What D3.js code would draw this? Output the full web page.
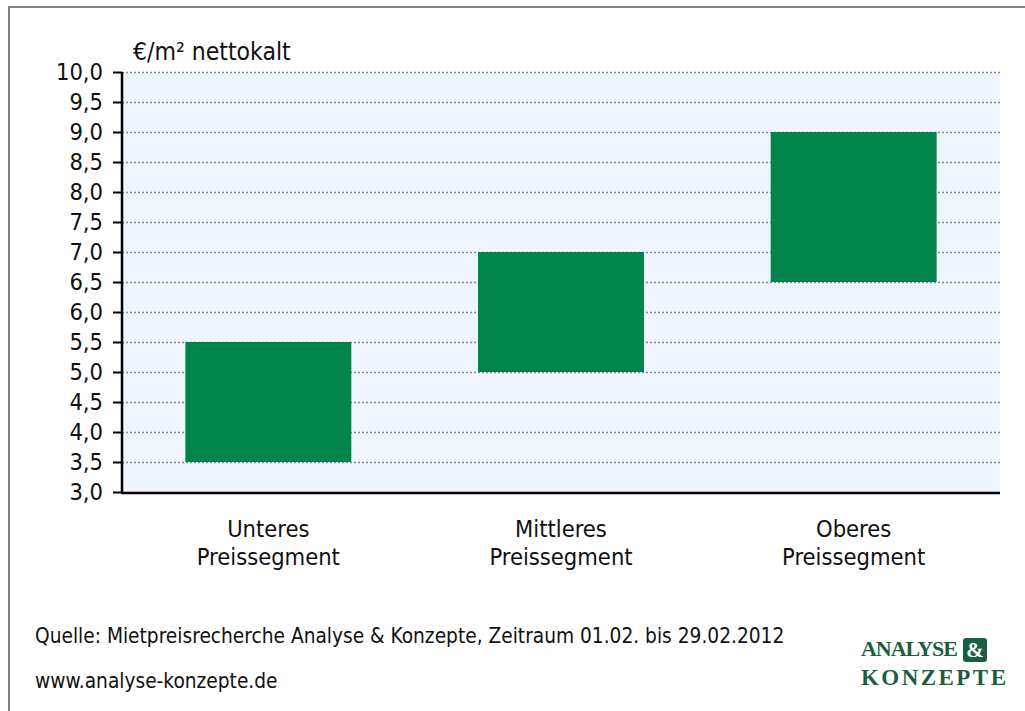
<!DOCTYPE html>
<html>
<head>
<meta charset="utf-8">
<script src="https://cdn.jsdelivr.net/npm/d3@7"></script>
<style>
  html, body { margin: 0; padding: 0; background: #fff; }
  svg { display: block; }
  text { font-family: "DejaVu Sans Condensed", "DejaVu Sans", sans-serif; fill: #111; }
</style>
</head>
<body>
<div id="chart"></div>
<script>
// Preisspannen je Segment (€/m² nettokalt)
const categories = [["Unteres", "Preissegment"], ["Mittleres", "Preissegment"], ["Oberes", "Preissegment"]];
const lowValues = [3.5, 5.0, 6.5];
const highValues = [5.5, 7.0, 9.0];
const yTicks = [3.0, 3.5, 4.0, 4.5, 5.0, 5.5, 6.0, 6.5, 7.0, 7.5, 8.0, 8.5, 9.0, 9.5, 10.0];
const unitLabel = "€/m² nettokalt";
const sourceText = "Quelle: Mietpreisrecherche Analyse & Konzepte, Zeitraum 01.02. bis 29.02.2012";
const urlText = "www.analyse-konzepte.de";

const W = 1025, H = 711;
const plot = { left: 122, right: 1000, top: 72, bottom: 492 };

const svg = d3.select("#chart").append("svg")
    .attr("width", W)
    .attr("height", H);

// outer frame (only top and left edge visible)
svg.append("rect")
    .attr("x", 9).attr("y", 7)
    .attr("width", W + 20).attr("height", H + 20)
    .attr("fill", "none")
    .attr("stroke", "#808080")
    .attr("stroke-width", 2);

const x = d3.scaleBand()
    .domain(d3.range(categories.length))
    .range([plot.left, plot.right])
    .paddingInner(0.433)
    .paddingOuter(0.2165);

const y = d3.scaleLinear()
    .domain([3, 10])
    .range([plot.bottom, plot.top]);

// plot background
svg.append("rect")
    .attr("x", plot.left).attr("y", plot.top)
    .attr("width", plot.right - plot.left)
    .attr("height", plot.bottom - plot.top)
    .attr("fill", "#eef5fd");

// dotted gridlines
svg.append("g")
    .selectAll("line")
    .data(yTicks.filter(d => d > 3))
    .join("line")
    .attr("x1", plot.left).attr("x2", plot.right)
    .attr("y1", d => y(d) + 0.5).attr("y2", d => y(d) + 0.5)
    .attr("stroke", "#8a8a8a")
    .attr("stroke-width", 1.5)
    .attr("stroke-dasharray", "2,2");

// bars (floating range)
svg.append("g")
    .selectAll("rect")
    .data(categories.map((c, i) => ({ i, lo: lowValues[i], hi: highValues[i] })))
    .join("rect")
    .attr("x", d => x(d.i))
    .attr("width", x.bandwidth())
    .attr("y", d => y(d.hi))
    .attr("height", d => y(d.lo) - y(d.hi))
    .attr("fill", "#00844b");

// y axis
const yAxis = svg.append("g")
    .attr("transform", `translate(${plot.left},0)`)
    .call(d3.axisLeft(y)
        .tickValues(yTicks)
        .tickSize(9)
        .tickPadding(10)
        .tickFormat(d => d3.format(".1f")(d).replace(".", ",")));
yAxis.select(".domain").attr("stroke", "#000").attr("stroke-width", 2.5).attr("d", `M0,${plot.top}V${plot.bottom}`);
yAxis.selectAll(".tick line").attr("stroke", "#000").attr("stroke-width", 2);
yAxis.selectAll(".tick text")
    .attr("font-size", 23.5)
    .attr("font-family", null)
    .attr("fill", "#111");

// x axis baseline
svg.append("line")
    .attr("x1", plot.left - 1).attr("x2", plot.right)
    .attr("y1", plot.bottom + 1).attr("y2", plot.bottom + 1)
    .attr("stroke", "#000")
    .attr("stroke-width", 2.5);

// category labels
const catG = svg.append("g");
categories.forEach((lines, i) => {
    const cx = x(i) + x.bandwidth() / 2;
    const t = catG.append("text")
        .attr("x", cx)
        .attr("y", 537)
        .attr("text-anchor", "middle")
        .attr("font-size", 23.5);
    lines.forEach((ln, k) => {
        t.append("tspan").attr("x", cx).attr("dy", k === 0 ? 0 : 28).text(ln);
    });
});

// unit label
svg.append("text")
    .attr("x", 133).attr("y", 60)
    .attr("font-size", 24.5)
    .text(unitLabel);

// source lines
svg.append("text")
    .attr("x", 35).attr("y", 643)
    .attr("font-size", 20.7)
    .text(sourceText);
svg.append("text")
    .attr("x", 35).attr("y", 688)
    .attr("font-size", 20.7)
    .text(urlText);

// logo
const logo = svg.append("g").attr("class", "logo");
const logoGreen = "#1b5e3f";
logo.append("text")
    .attr("x", 861).attr("y", 656)
    .attr("font-weight", "bold")
    .attr("font-size", 22)
    .attr("textLength", 97)
    .style("font-family", "'Liberation Serif', serif")
    .style("fill", logoGreen)
    .text("ANALYSE");
logo.append("rect")
    .attr("x", 963).attr("y", 638)
    .attr("width", 24).attr("height", 24)
    .attr("rx", 3)
    .attr("fill", logoGreen);
logo.append("text")
    .attr("x", 975).attr("y", 657)
    .attr("text-anchor", "middle")
    .attr("font-weight", "bold")
    .attr("font-size", 21)
    .style("font-family", "'Liberation Serif', serif")
    .style("fill", "#fff")
    .text("&");
logo.append("text")
    .attr("x", 861).attr("y", 685)
    .attr("font-weight", "bold")
    .attr("font-size", 23)
    .attr("textLength", 145)
    .style("font-family", "'Liberation Serif', serif")
    .style("fill", logoGreen)
    .text("KONZEPTE");
</script>
</body>
</html>
